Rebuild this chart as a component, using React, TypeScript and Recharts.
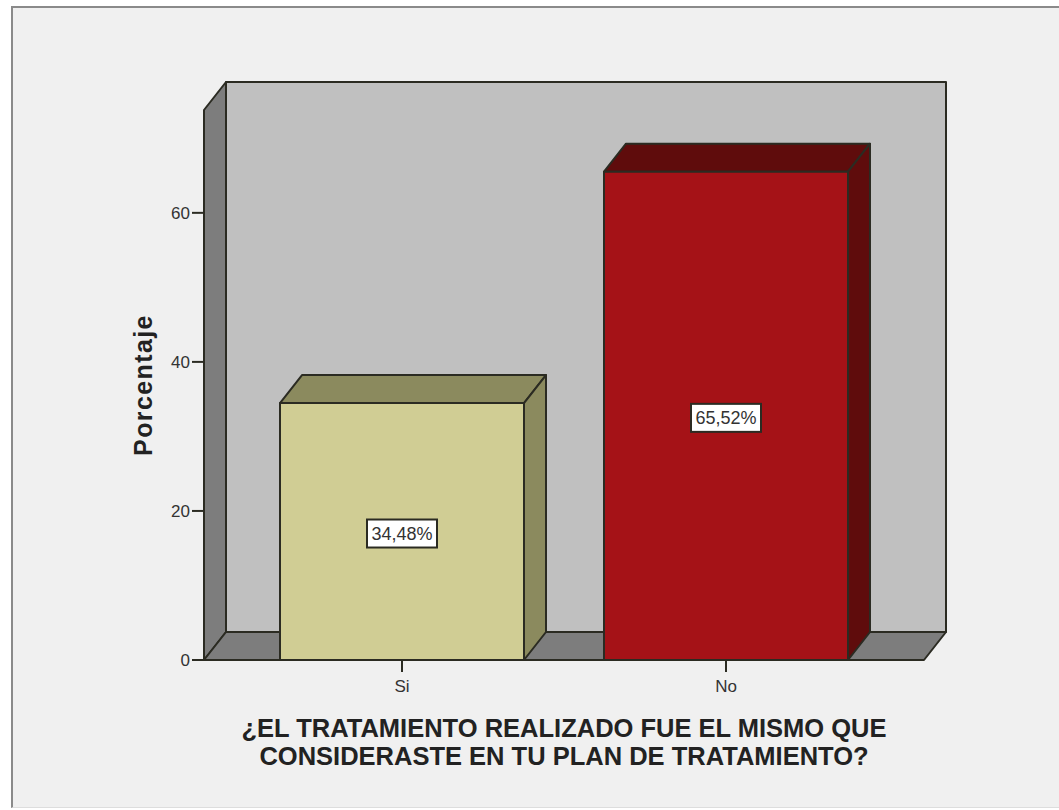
import { BarChart, Bar, Cell, XAxis, YAxis, LabelList, usePlotArea } from 'recharts'

const categories = ['Si', 'No']
const percentages = [34.48, 65.52]
const percentLabels = ['34,48%', '65,52%']
const barColors = ['#d0cd94', '#a51217']
const barShadeColors = ['#8b8a5e', '#5f0c0c']
const yTicks = [0, 20, 40, 60]
const xTitleLines = ['¿EL TRATAMIENTO REALIZADO FUE EL MISMO QUE', 'CONSIDERASTE EN TU PLAN DE TRATAMIENTO?']

const rows = categories.map((name, i) => ({
  name,
  value: percentages[i],
  label: percentLabels[i],
  shade: barShadeColors[i],
}))

const DEPTH_X = 22
const DEPTH_Y = 28
const EDGE = '#2b2b22'
const FONT = '"Liberation Sans", Arial, sans-serif'

// Paredes y piso de la caja 3D, detras de las barras
function Walls() {
  const plot = usePlotArea()
  if (!plot) return null
  const left = plot.x
  const right = plot.x + plot.width
  const top = plot.y
  const bottom = plot.y + plot.height
  const pts = (list: number[][]) => list.map((p) => p.join(',')).join(' ')
  return (
    <g stroke={EDGE} strokeWidth={2} strokeLinejoin="round">
      <polygon
        fill="#c0c0c0"
        points={pts([
          [left + DEPTH_X, top - DEPTH_Y],
          [right + DEPTH_X, top - DEPTH_Y],
          [right + DEPTH_X, bottom - DEPTH_Y],
          [left + DEPTH_X, bottom - DEPTH_Y],
        ])}
      />
      <polygon
        fill="#7d7d7d"
        points={pts([
          [left, top],
          [left + DEPTH_X, top - DEPTH_Y],
          [left + DEPTH_X, bottom - DEPTH_Y],
          [left, bottom],
        ])}
      />
      <polygon
        fill="#7d7d7d"
        points={pts([
          [left, bottom],
          [left + DEPTH_X, bottom - DEPTH_Y],
          [right + DEPTH_X, bottom - DEPTH_Y],
          [right, bottom],
        ])}
      />
    </g>
  )
}

function Bar3D(props: any) {
  const { x, y, width, height, fill, payload } = props
  const shade = payload.shade
  const r = x + width
  const b = y + height
  return (
    <g stroke={EDGE} strokeWidth={2} strokeLinejoin="round">
      <polygon
        fill={shade}
        points={`${x},${y} ${x + DEPTH_X},${y - DEPTH_Y} ${r + DEPTH_X},${y - DEPTH_Y} ${r},${y}`}
      />
      <polygon
        fill={shade}
        points={`${r},${y} ${r + DEPTH_X},${y - DEPTH_Y} ${r + DEPTH_X},${b - DEPTH_Y} ${r},${b}`}
      />
      <rect x={x} y={y} width={width} height={height} fill={fill} />
    </g>
  )
}

function ValueBox(props: any) {
  const { x, y, width, height, value } = props
  const cx = x + width / 2
  const cy = y + height / 2 + 2
  return (
    <g>
      <rect x={cx - 35} y={cy - 14} width={70} height={28} fill="#ffffff" stroke={EDGE} strokeWidth={2} />
      <text x={cx} y={cy + 6} textAnchor="middle" fontFamily={FONT} fontSize={18} fill="#333333">
        {value}
      </text>
    </g>
  )
}

function XTitle(props: any) {
  const cx = props.viewBox.x + props.viewBox.width / 2
  return (
    <text textAnchor="middle" fontFamily={FONT} fontSize={25.5} fontWeight="bold" fill="#222222">
      <tspan x={cx} y={737}>
        {xTitleLines[0]}
      </tspan>
      <tspan x={cx} y={765}>
        {xTitleLines[1]}
      </tspan>
    </text>
  )
}

function YTitle() {
  return (
    <text
      transform="translate(152,385) rotate(-90)"
      textAnchor="middle"
      fontFamily={FONT}
      fontSize={25}
      fontWeight="bold"
      letterSpacing={1.4}
      fill="#222222"
    >
      Porcentaje
    </text>
  )
}

export default function App() {
  return (
    <div style={{ position: 'fixed', left: 0, top: 0, width: 1059, height: 810, background: '#ffffff', overflow: 'hidden' }}>
      <div
        style={{
          position: 'absolute',
          left: 11,
          top: 6,
          width: 1048,
          height: 802,
          boxSizing: 'border-box',
          background: '#f0f0f0',
          borderLeft: '2px solid #8a8a8a',
          borderTop: '2px solid #8a8a8a',
          borderBottom: '1px solid #dddddd',
        }}
      />
      <BarChart
        width={1059}
        height={810}
        data={rows}
        margin={{ top: 110, right: 135, bottom: 110, left: 144 }}
        style={{ position: 'absolute', left: 0, top: 0 }}
      >
        <Walls />
        <XAxis
          dataKey="name"
          padding={{ left: 36, right: 36 }}
          height={40}
          stroke={EDGE}
          strokeWidth={2}
          tickSize={12}
          tickMargin={8}
          tick={{ fill: '#333333', fontFamily: FONT, fontSize: 17 }}
          label={<XTitle />}
        />
        <YAxis
          domain={[0, 73.8]}
          ticks={yTicks}
          width={60}
          stroke={EDGE}
          strokeWidth={2}
          tickSize={12}
          tickMargin={2}
          tick={{ fill: '#333333', fontFamily: FONT, fontSize: 17 }}
          label={<YTitle />}
        />
        <Bar dataKey="value" barSize={244} shape={<Bar3D />} isAnimationActive={false}>
          {rows.map((r, i) => (
            <Cell key={r.name} fill={barColors[i]} />
          ))}
          <LabelList dataKey="label" content={<ValueBox />} />
        </Bar>
      </BarChart>
    </div>
  )
}
